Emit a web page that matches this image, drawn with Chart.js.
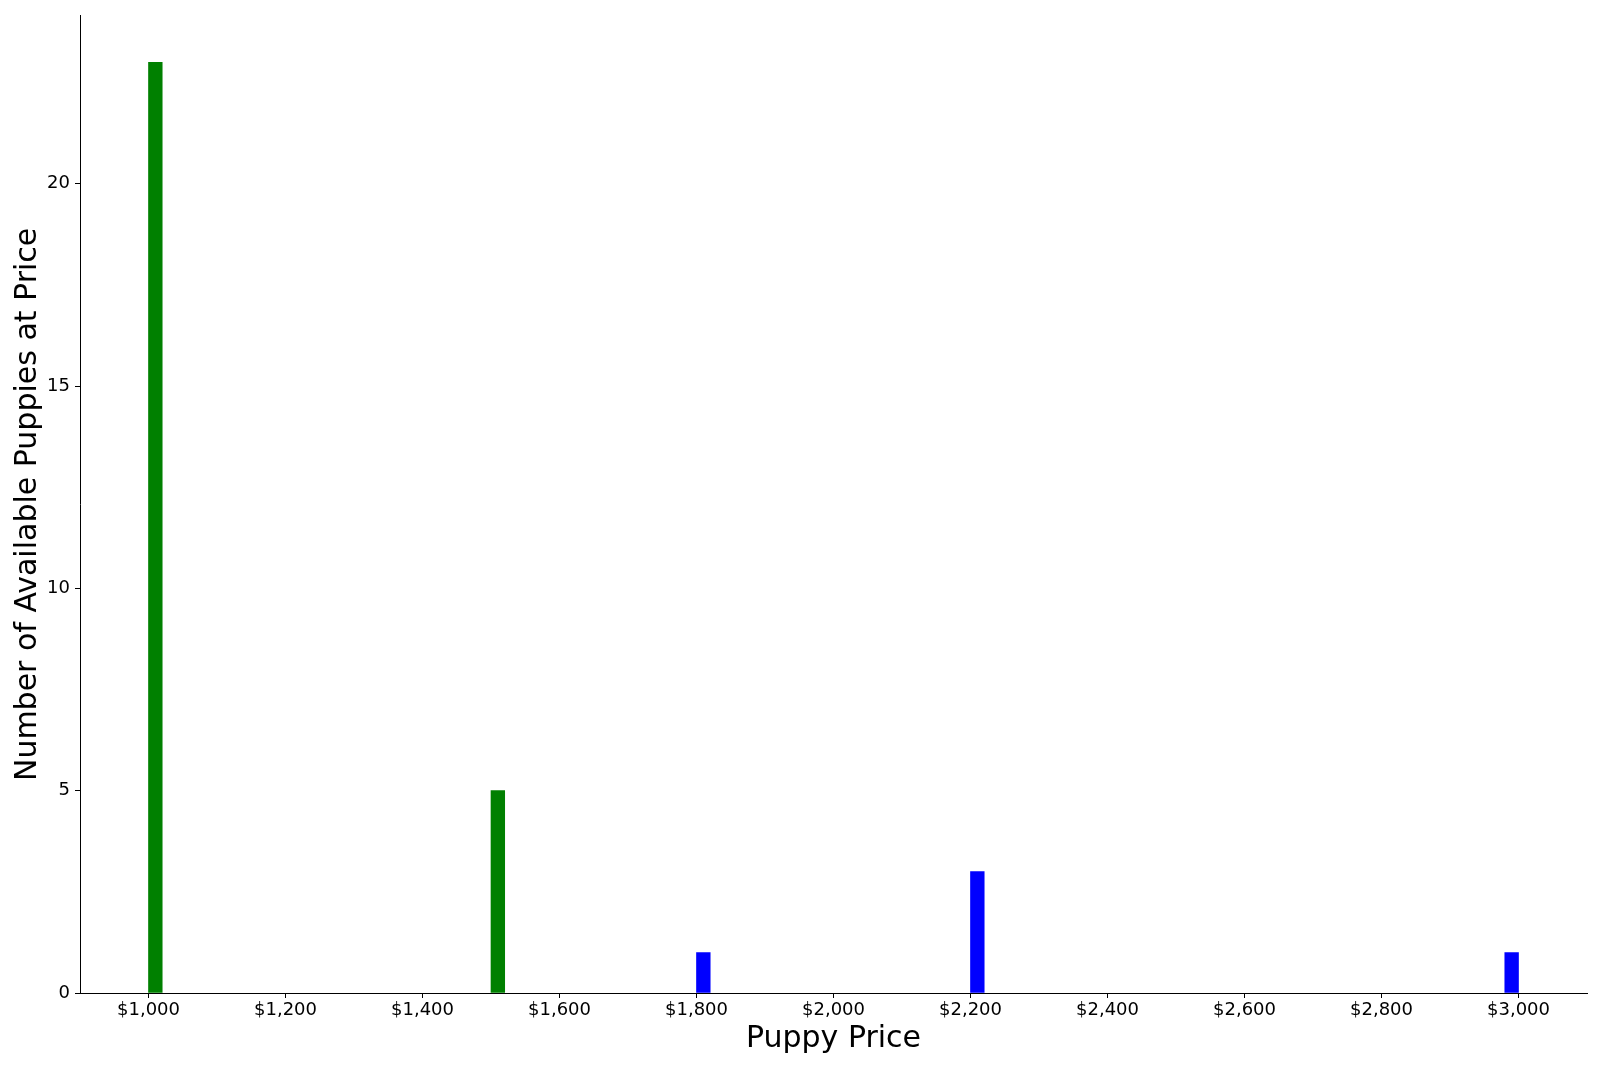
<!DOCTYPE html>
<html>
<head>
<meta charset="utf-8">
<title>Puppy prices</title>
<script src="https://cdn.jsdelivr.net/npm/chart.js@4.4.1/dist/chart.umd.min.js"></script>
<style>
  html, body { margin: 0; padding: 0; background: #fff; }
  canvas { display: block; }
</style>
</head>
<body>
<canvas id="chart" width="1600" height="1067"></canvas>
<script>
// Histogram of puppy prices: 100 bins of $20 between $1,000 and $3,000
const greenPrices = [1000, 1500];
const greenCounts = [23, 5];
const bluePrices = [1800, 2200, 3000];
const blueCounts = [1, 3, 1];

const xTicks = [1000, 1200, 1400, 1600, 1800, 2000, 2200, 2400, 2600, 2800, 3000];
const yTicks = [0, 5, 10, 15, 20];

const BIN_WIDTH = 20;
const PRICE_MIN = 1000;
const PRICE_MAX = 3000;

// value lands in its bin [start, start + width); the top value goes in the last bin
const binCenter = p => Math.min(p, PRICE_MAX - BIN_WIDTH) + BIN_WIDTH / 2;
const toPoints = (prices, counts) => prices.map((p, i) => ({ x: binCenter(p), y: counts[i] }));

const maxCount = Math.max(...greenCounts, ...blueCounts);
const xPad = (PRICE_MAX - PRICE_MIN) * 0.05;

const tickFont = { family: 'DejaVu Sans', size: 18 };
const titleFont = { family: 'DejaVu Sans', size: 30 };
const fmtPrice = v => '$' + v.toLocaleString('en-US');

new Chart(document.getElementById('chart').getContext('2d'), {
  type: 'bar',
  data: {
    datasets: [
      { data: toPoints(greenPrices, greenCounts), backgroundColor: '#008000' },
      { data: toPoints(bluePrices, blueCounts), backgroundColor: '#0000ff' },
    ],
  },
  options: {
    responsive: false,
    animation: false,
    devicePixelRatio: 1,
    layout: { padding: { top: 13, right: 13, left: 0, bottom: 0 } },
    datasets: { bar: { grouped: false, barThickness: 13.7, borderWidth: 0 } },
    plugins: { legend: { display: false }, tooltip: { enabled: false } },
    scales: {
      x: {
        type: 'linear',
        offset: false,
        min: PRICE_MIN - xPad,
        max: PRICE_MAX + xPad,
        afterBuildTicks: s => { s.ticks = xTicks.map(v => ({ value: v })); },
        afterFit: s => { s.height = 74; },
        ticks: { color: '#000', font: tickFont, padding: 2, maxRotation: 0, callback: v => fmtPrice(v) },
        grid: { offset: false, drawOnChartArea: false, drawTicks: true, tickLength: 5, color: '#000' },
        border: { display: true, color: '#000', width: 1 },
        title: { display: true, text: 'Puppy Price', color: '#000', font: titleFont, padding: { top: 0, bottom: 10 } },
      },
      y: {
        min: 0,
        max: maxCount * 1.05,
        afterBuildTicks: s => { s.ticks = yTicks.map(v => ({ value: v })); },
        afterFit: s => { s.width = 80; },
        ticks: { color: '#000', font: tickFont, padding: 5 },
        grid: { drawOnChartArea: false, drawTicks: true, tickLength: 5, color: '#000' },
        border: { display: true, color: '#000', width: 1 },
        title: { display: true, text: 'Number of Available Puppies at Price', color: '#000', font: titleFont, padding: { top: 10, bottom: 0 } },
      },
    },
  },
});
</script>
</body>
</html>
